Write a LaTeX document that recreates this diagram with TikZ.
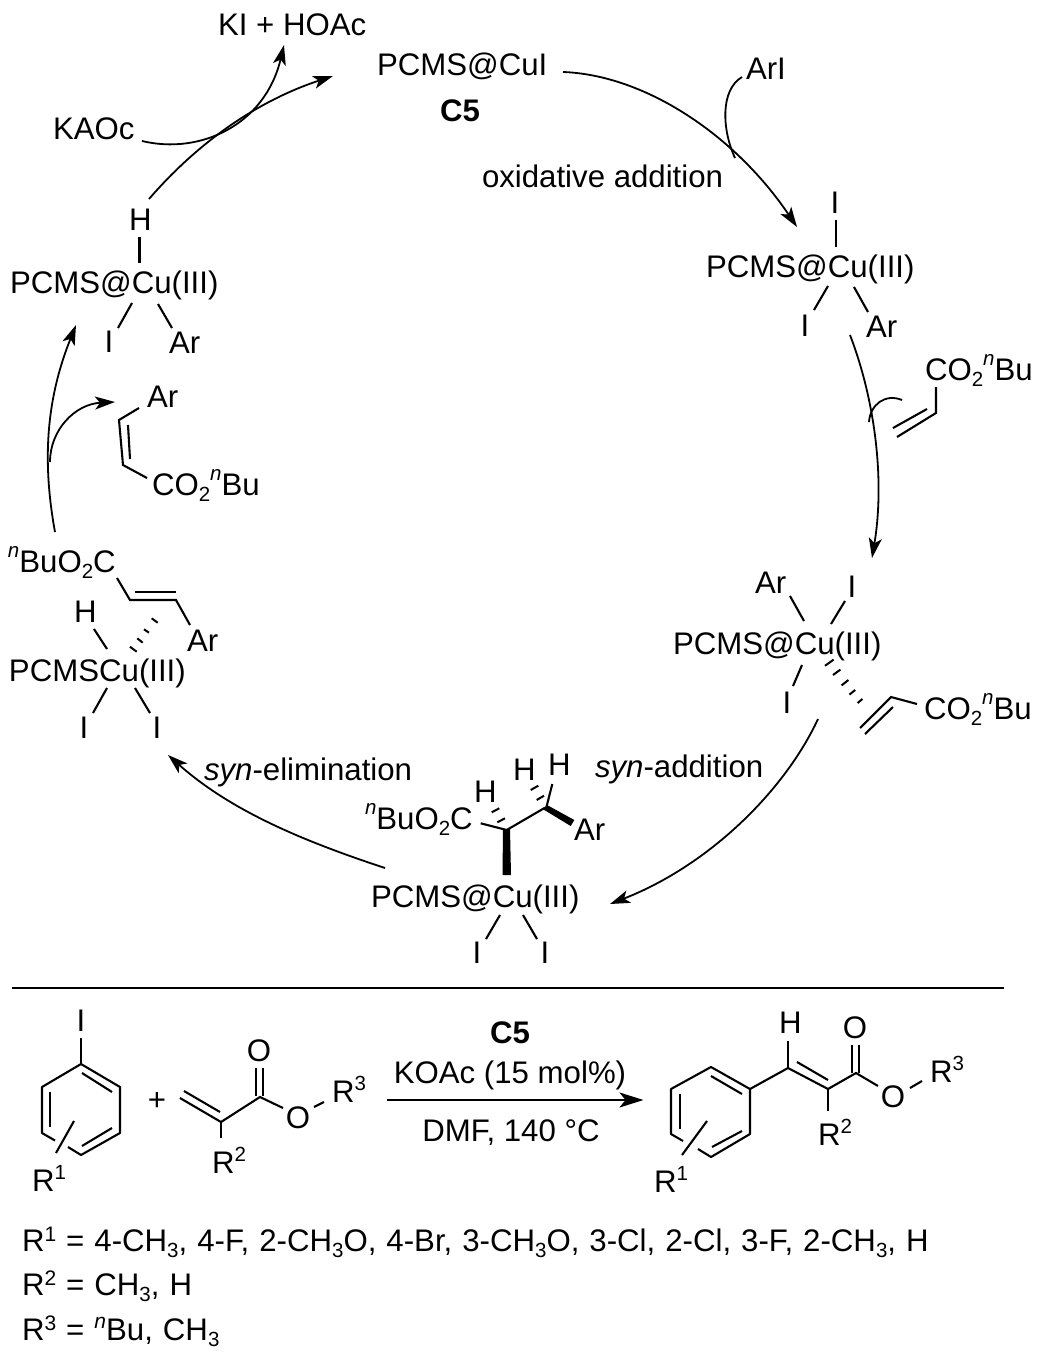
\documentclass[tikz,border=0pt]{standalone}
\usepackage{fontspec}
\setmainfont{Liberation Sans}
\usetikzlibrary{arrows.meta}
\newcommand{\supx}[1]{\raisebox{0.38em}{\fontsize{20.5}{20.5}\selectfont #1}}
\newcommand{\subx}[1]{\raisebox{-0.22em}{\fontsize{20.5}{20.5}\selectfont #1}}
\newcommand{\nsup}{\raisebox{0.46em}{\fontsize{20.5}{20.5}\selectfont\itshape n}}
\newcommand{\nbu}{\nsup Bu}
\newcommand{\lsup}[1]{\raisebox{0.32em}{\fontsize{21}{21}\selectfont #1}}
\newcommand{\lnsup}{\raisebox{0.38em}{\fontsize{21}{21}\selectfont\itshape n}}
\newcommand{\widesp}{\spaceskip=10pt\relax}
\tikzset{
  lbl/.style={anchor=base west,inner sep=0pt,outer sep=0pt,font=\fontsize{31.2}{36}\selectfont},
  lblc/.style={lbl,anchor=base},
  boldlbl/.style={font=\fontsize{31.2}{36}\selectfont\bfseries},
  bond/.style={line width=2.1pt,line cap=butt,line join=miter},
  hash/.style={line width=2pt},
  wedge/.style={fill=black,draw=none},
  curved/.style={line width=1.8pt,-{Stealth[length=20pt,width=13pt,inset=5pt]}},
  plaincurve/.style={line width=1.8pt},
  rxnarrow/.style={line width=2pt,-{Stealth[length=24pt,width=15pt,inset=6pt]}}
}
\begin{document}
\begin{tikzpicture}[x=1pt,y=-1pt]
\useasboundingbox (0,0) rectangle (1045,1357);
\fill[white] (0,0) rectangle (1045,1357);

% ---- top
\node[lbl] (kihoac) at (218,35) {KI + HOAc};
\node[lbl] (cui) at (377,75) {PCMS@CuI};
\node[lbl,boldlbl] (cfive) at (440,121) {C5};
\node[lbl] (kaoc) at (53,139) {KAOc};
\node[lbl] (oxadd) at (482,187) {oxidative addition};
\node[lbl] (ari) at (746,79) {ArI};

% ---- complex A (upper left)
\node[lbl] (ah) at (129,230) {H};
\node[lbl] (acu) at (10,293) {PCMS@Cu(III)};
\node[lblc] (ai) at (109,352) {I};
\node[lbl] (aar) at (169,353) {Ar};
\draw[bond] (139.5,237)--(139.5,263);
\draw[bond] (132,303)--(118,328);
\draw[bond] (158,304)--(172,328);

% ---- complex B (upper right)
\node[lblc] (bi) at (835,213) {I};
\node[lbl] (bcu) at (706,277) {PCMS@Cu(III)};
\node[lblc] (bi2) at (805,336) {I};
\node[lbl] (bar) at (866,337) {Ar};
\draw[bond] (836,220)--(836,247);
\draw[bond] (828,286)--(814,310);
\draw[bond] (854,287)--(868,312);

% ---- acrylate (right)
\node[lbl] (acr) at (925,380) {CO\subx{2}\nbu};
\draw[bond] (936,387)--(936,413)--(897,437);
\draw[bond] (927,409)--(893,428);

% ---- complex C (right)
\node[lbl] (car) at (755,593) {Ar};
\node[lblc] (ci) at (852,597) {I};
\node[lbl] (ccu) at (673,654) {PCMS@Cu(III)};
\node[lblc] (ci2) at (787,713) {I};
\node[lbl] (cco) at (924,719) {CO\subx{2}\nbu};
\draw[bond] (790,596)--(804,621);
\draw[bond] (845,601)--(831,624);
\draw[bond] (802,665)--(793,686);
\draw[hash] (825,665.8)--(833.6,659.6);
\draw[hash] (833,675)--(840.4,669.6);
\draw[hash] (841.6,685.4)--(848.4,680);
\draw[hash] (849.4,694.6)--(855.2,690);
\draw[hash] (857.6,703)--(862.4,699);
\draw[bond] (860,728)--(891,697)--(917,704);
\draw[bond] (865,734)--(893,707);

% ---- complex D (bottom centre)
\node[lbl] (dh1) at (474,802) {H};
\node[lbl] (dh2) at (513,780) {H};
\node[lbl] (dh3) at (548,775) {H};
\node[lbl] (dco) at (365,829) {\nsup BuO\subx{2}C};
\node[lbl] (dar) at (574,840) {Ar};
\node[lbl] (dcu) at (371,907) {PCMS@Cu(III)};
\node[lblc] (di1) at (477,963) {I};
\node[lblc] (di2) at (545,963) {I};
\draw[bond] (480.7,823.3)--(506.7,830)--(545,807.7);
\fill[wedge] (503,829)--(510,829)--(511,875)--(502.5,875)--cycle;
\fill[wedge] (546.5,804.7)--(574.3,820)--(570.7,826)--(543.5,809.5)--cycle;
\draw[hash] (491.7,812.3)--(499.3,808.3);
\draw[hash] (497.3,822.3)--(505,818.3);
\draw[hash] (530.7,790)--(538.3,785.7);
\draw[hash] (536.7,800)--(544,795.7);
\draw[bond] (552.3,784)--(546.7,806);
\draw[bond] (500,915)--(486,939);
\draw[bond] (523,915)--(537,939);

% ---- complex E (left)
\node[lbl] (eco) at (8,572) {\nsup BuO\subx{2}C};
\node[lbl] (eh) at (74,622) {H};
\node[lbl] (ear) at (187,651) {Ar};
\node[lbl] (ecu) at (9,681) {PCMSCu(III)};
\node[lblc] (ei1) at (84,738) {I};
\node[lblc] (ei2) at (157,738) {I};
\draw[bond] (117,578)--(130,600)--(176,600)--(190,625);
\draw[bond] (135,592)--(176,592);
\draw[bond] (94,629)--(107,649);
\draw[hash] (130,646.7)--(136.7,651.7);
\draw[hash] (137.3,638.3)--(142.7,642.7);
\draw[hash] (144,629.3)--(149,632.7);
\draw[hash] (151.7,618.3)--(157.7,622.7);
\draw[bond] (107,688)--(93,713);
\draw[bond] (135,688)--(150,713);

% ---- released alkene (left)
\node[lbl] (far) at (147,407) {Ar};
\node[lbl] (fco) at (152,495) {CO\subx{2}\nbu};
\draw[bond] (139,408)--(119,420)--(123,465)--(147,478);
\draw[bond] (128,425)--(130,459);

% ---- cycle labels
\node[lbl] (synel) at (204,780) {\itshape syn\upshape-elimination};
\node[lbl] (synad) at (595,777) {\itshape syn\upshape-addition};

% ---- cycle arrows
\coordinate (a1s) at (149,199); \coordinate (a1e) at (333,76);
\coordinate (a2s) at (142,141); \coordinate (a2e) at (284,45);
\coordinate (a3s) at (563,72);  \coordinate (a3e) at (797,227);
\coordinate (a4s) at (742,77);  \coordinate (a4e) at (735,158);
\coordinate (a5s) at (850,335); \coordinate (a5e) at (872,558);
\coordinate (a6s) at (902,400); \coordinate (a6e) at (869,422);
\coordinate (a7s) at (818,719); \coordinate (a7e) at (610,904);
\coordinate (a8s) at (385,868); \coordinate (a8e) at (168,755);
\coordinate (a9s) at (55,532);  \coordinate (a9e) at (76,325);
\coordinate (a10s) at (50,462); \coordinate (a10e) at (115,402);
\draw[curved] (a1s) .. controls (200,140) and (260,100) .. (a1e);
\draw[curved] (a2s) .. controls (200,155) and (265,125) .. (a2e);
\draw[curved] (a3s) .. controls (645,75) and (735,135) .. (a3e);
\draw[plaincurve] (a4s) .. controls (720,90) and (722,130) .. (a4e);
\draw[curved] (a5s) .. controls (875,400) and (885,480) .. (a5e);
\draw[plaincurve] (a6s) .. controls (885,393) and (870,405) .. (a6e);
\draw[curved] (a7s) .. controls (785,790) and (710,865) .. (a7e);
\draw[curved] (a8s) .. controls (300,840) and (230,810) .. (a8e);
\draw[curved] (a9s) .. controls (40,450) and (50,390) .. (a9e);
\draw[curved] (a10s) .. controls (50,430) and (75,404) .. (a10e);

% ---- divider
\coordinate (dl) at (12,988); \coordinate (dr) at (1004,988);
\draw[line width=1.8pt] (dl)--(dr);

% ---- reactant aryl iodide
\node[lblc] (ri) at (81,1031) {I};
\node[lbl] (rr1) at (32,1191) {R\supx{1}};
\draw[bond] (81,1038)--(81,1064);
\draw[bond,line join=round] (55,1140.5)--(42,1133)--(42,1087)--(81,1064)--(120,1087)--(120,1133)--(81,1155)--(68,1147);
\draw[bond] (82,1073)--(112,1092);
\draw[bond] (82,1146)--(112,1128);
\draw[bond] (50,1092)--(50,1127);
\draw[bond] (74,1121)--(56,1153);

\node[lblc] (plus) at (157,1110) {+};

% ---- reactant acrylate
\node[lblc] (ro1) at (259,1061) {O};
\node[lblc] (ro2) at (298,1128) {O};
\node[lbl] (rr3) at (332,1102) {R\supx{3}};
\node[lbl] (rr2) at (212,1173) {R\supx{2}};
\draw[bond] (180,1098)--(221,1122)--(260,1097)--(283,1108);
\draw[bond] (184,1091)--(220,1112);
\draw[bond] (221,1122)--(221,1138);
\draw[bond] (256,1068)--(256,1096);
\draw[bond] (263,1068)--(263,1096);
\draw[bond] (314,1107)--(324,1102);

% ---- reaction arrow
\node[lblc,boldlbl] (rc5) at (510,1043) {C5};
\node[lblc] (rkoac) at (510,1083) {KOAc (15 mol\%)};
\node[lblc] (rdmf) at (511,1141) {DMF, 140 °C};
\coordinate (ras) at (387,1100); \coordinate (rae) at (643.5,1100);
\draw[rxnarrow] (ras)--(rae);

% ---- product
\node[lbl] (ph) at (779,1033) {H};
\node[lblc] (po1) at (855,1038) {O};
\node[lblc] (po2) at (893,1107) {O};
\node[lbl] (pr3) at (930,1082) {R\supx{3}};
\node[lbl] (pr2) at (818,1145) {R\supx{2}};
\node[lbl] (pr1) at (654,1192) {R\supx{1}};
\draw[bond,line join=round] (683,1141)--(671,1134)--(671,1089)--(711,1067)--(750,1089)--(750,1134)--(711,1157)--(698,1149);
\draw[bond] (711,1076)--(742,1094);
\draw[bond] (712,1147)--(742,1131);
\draw[bond] (680,1094)--(680,1129);
\draw[bond] (707,1121)--(682,1155);
\draw[bond] (750,1089)--(788,1068)--(828,1089)--(856,1073)--(878,1086);
\draw[bond] (797,1062)--(828,1080);
\draw[bond] (788,1041)--(788,1068);
\draw[bond] (828,1089)--(828,1111);
\draw[bond] (852,1045)--(852,1073);
\draw[bond] (859,1045)--(859,1073);
\draw[bond] (910,1088)--(922,1081);

% ---- substituent legend
\node[lbl] (l1) at (22,1251) {\widesp R\lsup{1} = 4-CH\subx{3}, 4-F, 2-CH\subx{3}O, 4-Br, 3-CH\subx{3}O, 3-Cl, 2-Cl, 3-F, 2-CH\subx{3}, H};
\node[lbl] (l2) at (22,1295) {\widesp R\lsup{2} = CH\subx{3}, H};
\node[lbl] (l3) at (22,1340) {\widesp R\lsup{3} = \lnsup Bu, CH\subx{3}};
\end{tikzpicture}
\end{document}
